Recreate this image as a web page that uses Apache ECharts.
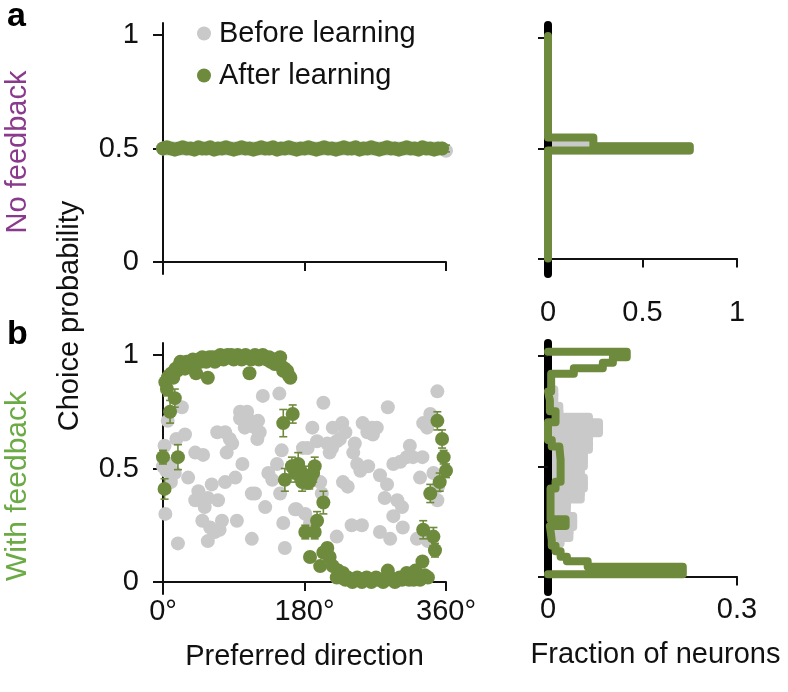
<!DOCTYPE html>
<html><head><meta charset="utf-8">
<script src="https://cdn.jsdelivr.net/npm/echarts@6/dist/echarts.min.js"></script>
<style>html,body{margin:0;padding:0;background:#fff}#c{width:788px;height:692px}</style>
</head><body><div id="c"></div>
<script>
// ---------------- DATA ----------------
const seriesNames = ['Before learning', 'After learning'];
const xTickLabels = ['0°', '180°', '360°'];
const yTickValues = [0, 0.5, 1];

// Panel a (no feedback): preferred directions and choice probabilities
const topDirs = [0,5,10,15,20,25,30,35,40,45,
  50,55,60,65,70,75,80,85,90,95,
  100,105,110,115,120,125,130,135,140,145,
  150,155,160,165,170,175,180,185,190,195,
  200,205,210,215,220,225,230,235,240,245,
  250,255,260,265,270,275,280,285,290,295,
  300,305,310,315,320,325,330,335,340,345,
  350,355,360];
const topBefore = [0.50,0.50,0.50,0.50,0.50,0.50,0.50,0.50,0.50,0.50,
  0.50,0.50,0.50,0.50,0.50,0.50,0.50,0.50,0.50,0.50,
  0.50,0.50,0.50,0.50,0.50,0.50,0.50,0.50,0.50,0.50,
  0.50,0.50,0.50,0.50,0.50,0.50,0.50,0.50,0.50,0.50,
  0.50,0.50,0.50,0.50,0.50,0.50,0.50,0.50,0.50,0.50,
  0.50,0.50,0.50,0.50,0.50,0.50,0.50,0.50,0.50,0.50,
  0.50,0.50,0.50,0.50,0.50,0.50,0.50,0.50,0.50,0.50,
  0.50,0.50,0.49];
const topAfter = [0.50,0.505,0.50,0.495,0.50,0.505,0.50,0.50,0.495,0.505,
  0.50,0.50,0.505,0.495,0.50,0.50,0.505,0.50,0.495,0.50,
  0.505,0.50,0.50,0.495,0.50,0.505,0.50,0.50,0.505,0.495,
  0.50,0.50,0.505,0.50,0.495,0.50,0.50,0.505,0.50,0.495,
  0.50,0.505,0.50,0.50,0.495,0.50,0.505,0.50,0.50,0.505,
  0.495,0.50,0.50,0.505,0.50,0.495,0.50,0.505,0.50,0.50,
  0.495,0.50,0.505,0.50,0.50,0.495,0.505,0.50,0.50,0.495,
  0.50,0.50,0.50];
const topAfterErr = [0.015,0.02,0.015,0.015,0.02,0.015,0.015,0.02,0.015,0.015,
  0.02,0.015,0.015,0.02,0.015,0.015,0.02,0.015,0.015,0.02,
  0.015,0.015,0.02,0.015,0.015,0.02,0.015,0.015,0.02,0.015,
  0.015,0.02,0.015,0.015,0.02,0.015,0.015,0.02,0.015,0.015,
  0.02,0.015,0.015,0.02,0.015,0.015,0.02,0.015,0.015,0.02,
  0.015,0.015,0.02,0.015,0.015,0.02,0.015,0.015,0.02,0.015,
  0.015,0.02,0.015,0.015,0.02,0.015,0.015,0.02,0.015,0.015,
  0.02,0.015,0.015];

// Panel b (with feedback): before learning [direction, CP]
const botBefore = [[127,0.82],[148,0.83],[24,0.77],[6,0.71],[98,0.75],[107,0.75],[98,0.72],[111,0.71],[104,0.68],[121,0.71],
  [123,0.66],[120,0.63],[117,0.68],[17,0.63],[28,0.65],[69,0.66],[79,0.66],[85,0.63],[81,0.57],[88,0.61],
  [41,0.57],[51,0.56],[101,0.52],[0,0.51],[9,0.52],[15,0.48],[32,0.46],[62,0.43],[79,0.44],[92,0.46],
  [134,0.48],[145,0.52],[45,0.40],[41,0.36],[70,0.36],[117,0.39],[149,0.39],[139,0.45],[151,0.58],[53,0.33],
  [130,0.33],[3,0.30],[50,0.27],[75,0.27],[94,0.27],[60,0.24],[66,0.22],[19,0.17],[57,0.18],[113,0.19],
  [155,0.15],[153,0.26],[170,0.32],[181,0.30],[178,0.59],[4,0.49],[57,0.37],[72,0.23],[113,0.39],[2,0.60],[10,0.44],
  [349,0.84],[204,0.79],[286,0.77],[331,0.70],[340,0.74],[336,0.68],[190,0.68],[228,0.70],[216,0.68],[232,0.66],
  [254,0.70],[266,0.68],[272,0.68],[267,0.65],[260,0.66],[184,0.59],[196,0.62],[209,0.61],[215,0.59],[221,0.62],
  [212,0.57],[225,0.63],[244,0.61],[242,0.57],[314,0.60],[293,0.52],[302,0.53],[310,0.55],[318,0.55],[330,0.55],
  [247,0.52],[261,0.51],[251,0.49],[276,0.47],[285,0.43],[282,0.37],[327,0.46],[344,0.48],[350,0.42],[349,0.36],
  [229,0.44],[235,0.42],[200,0.44],[202,0.39],[298,0.36],[304,0.33],[168,0.32],[293,0.29],[305,0.24],[240,0.25],
  [253,0.25],[276,0.22],[289,0.19],[221,0.20],[187,0.26],[323,0.19],[337,0.18]];

// Panel b: after learning [direction, CP, error]
const botAfter = [[0,0.55,0.03],[2,0.41,0.045],[19,0.55,0.055],[9,0.75,0.05],[15,0.81,0.04],[5,0.85,0.03],
  [3,0.88,0.01],[6,0.90,0.01],[8,0.91,0.01],[11,0.92,0.01],[13,0.90,0.01],[16,0.94,0.01],[18,0.93,0.01],[20,0.95,0.01],
  [22,0.97,0.01],[24,0.95,0.01],[26,0.96,0.01],[28,0.94,0.01],[30,0.97,0.01],[32,0.96,0.01],[34,0.95,0.01],[36,0.97,0.01],
  [38,0.98,0.01],[40,0.96,0.01],[42,0.92,0.015],[44,0.97,0.01],[46,0.98,0.01],[48,0.97,0.01],[50,0.99,0.01],[52,0.98,0.01],
  [55,0.97,0.01],[57,0.90,0.02],[59,0.99,0.01],[61,0.98,0.01],[63,0.99,0.01],[66,0.97,0.01],[68,0.99,0.01],[70,0.98,0.01],
  [73,1.0,0.01],[75,0.99,0.01],[77,0.98,0.01],[80,0.99,0.01],[82,1.0,0.01],[85,0.99,0.01],[87,1.0,0.01],[90,0.98,0.01],
  [92,0.99,0.01],[95,1.0,0.01],[97,0.99,0.01],[100,0.98,0.01],[102,0.99,0.01],[105,1.0,0.01],[107,0.99,0.01],[110,0.92,0.015],
  [112,0.98,0.01],[115,0.99,0.01],[117,1.0,0.01],[120,0.99,0.01],[122,0.98,0.01],[125,0.99,0.01],[127,1.0,0.01],[130,0.99,0.01],
  [132,0.98,0.01],[135,0.99,0.01],[137,0.97,0.01],[140,0.98,0.01],[142,0.96,0.01],[145,0.97,0.01],[147,0.98,0.01],[149,0.99,0.01],
  [151,0.95,0.01],[153,0.93,0.01],[155,0.94,0.01],[158,0.93,0.01],[160,0.91,0.01],[162,0.90,0.01],
  [153,0.70,0.06],[165,0.74,0.04],[155,0.45,0.05],[164,0.51,0.04],[168,0.48,0.04],[172,0.52,0.05],[175,0.49,0.04],[177,0.44,0.04],
  [180,0.47,0.04],[183,0.45,0.04],[186,0.44,0.03],[188,0.46,0.03],[191,0.48,0.04],[193,0.51,0.04],[196,0.27,0.04],[204,0.35,0.05],
  [181,0.22,0.03],[193,0.22,0.03],[187,0.11,0.02],[204,0.13,0.02],[209,0.15,0.02],[212,0.11,0.02],[200,0.07,0.02],[216,0.07,0.02],
  [223,0.05,0.01],[229,0.04,0.01],[221,0.02,0.01],
  [226,0.02,0.01],[232,0.01,0.01],[235,0.02,0.01],[238,0.01,0.01],[241,0.0,0.01],[244,0.01,0.01],[247,0.02,0.01],[250,0.01,0.01],
  [253,0.0,0.01],[256,0.01,0.01],[259,0.02,0.01],[262,0.01,0.01],[265,0.0,0.01],[268,0.01,0.01],[271,0.02,0.01],[274,0.01,0.01],
  [277,0.01,0.01],[280,0.0,0.01],[283,0.01,0.01],[286,0.05,0.01],[289,0.02,0.01],[292,0.01,0.01],[295,0.0,0.01],[298,0.01,0.01],
  [301,0.02,0.01],[304,0.01,0.01],[307,0.02,0.01],[310,0.04,0.01],[313,0.01,0.01],[316,0.02,0.01],[319,0.01,0.01],[321,0.05,0.01],
  [324,0.02,0.01],[327,0.01,0.01],[330,0.09,0.02],[333,0.03,0.01],[337,0.02,0.01],
  [331,0.23,0.04],[344,0.20,0.04],[346,0.14,0.03],[340,0.39,0.04],[349,0.71,0.04],[355,0.63,0.04],[357,0.55,0.03],[360,0.49,0.03],[352,0.44,0.04]];

// Histograms: bin edges (choice probability) and fraction of neurons
const histTopBeforeEdges = [0.49, 0.51, 0.53];
const histTopBeforeFrac  = [0.75, 0.21];
const histTopAfterEdges  = [0.0, 0.49, 0.51, 0.55, 1.01];
const histTopAfterFrac   = [0, 0.75, 0.24, 0];

const histBotBeforeEdges = [0.15,0.175,0.2,0.225,0.25,0.275,0.3,0.325,0.35,0.375,0.4,0.425,0.45,0.475,0.5,
  0.525,0.55,0.575,0.6,0.625,0.65,0.675,0.7,0.725,0.75,0.775,0.8,0.825,0.85];
const histBotBeforeFrac  = [0.02,0.034,0.034,0.04,0.04,0.028,0.03,0.03,0.052,0.052,0.057,0.057,0.052,0.052,
  0.057,0.057,0.057,0.065,0.065,0.065,0.081,0.081,0.065,0.018,0.018,0,0.01,0.01];
const histBotAfterEdges  = [0.01,0.045,0.07,0.09,0.115,0.14,0.165,0.23,0.26,0.40,0.43,0.53,0.59,0.62,0.70,0.75,
  0.80,0.84,0.92,0.945,0.97,0.995,1.02];
const histBotAfterFrac   = [0.214,0.063,0.03,0.02,0.012,0.006,0.003,0.028,0.004,0.012,0.02,0.018,0.006,0,0.012,
  0.003,0,0.005,0.041,0.087,0.103,0.125];

// ---------------- STYLE ----------------
const GREEN = '#6E8B3D', GRAY = '#C9C9C9', INK = '#111111';
const FONT = 'Liberation Sans';
const FS = 29;
const DOT = 14;

function binsOf(edges, frac) {
  const out = [];
  for (let i = 0; i < frac.length; i++) if (frac[i] > 0) out.push([edges[i], edges[i + 1], frac[i]]);
  return out;
}
function outlineOf(edges, frac) {
  const pts = [[0, edges[0]]];
  for (let i = 0; i < frac.length; i++) { pts.push([frac[i], edges[i]]); pts.push([frac[i], edges[i + 1]]); }
  pts.push([0, edges[edges.length - 1]]);
  return pts;
}
function errItem(params, api) {
  const x = api.value(0), y = api.value(1), e = api.value(2);
  const a = api.coord([x, y + e]), b = api.coord([x, y - e]);
  const w = 4, st = { stroke: GREEN, lineWidth: 1.6 };
  return { type: 'group', children: [
    { type: 'line', shape: { x1: a[0], y1: a[1], x2: b[0], y2: b[1] }, style: st },
    { type: 'line', shape: { x1: a[0] - w, y1: a[1], x2: a[0] + w, y2: a[1] }, style: st },
    { type: 'line', shape: { x1: b[0] - w, y1: b[1], x2: b[0] + w, y2: b[1] }, style: st }
  ]};
}
function barItem(params, api) {
  const lo = api.value(0), hi = api.value(1), f = api.value(2);
  const p0 = api.coord([0, hi]), p1 = api.coord([f, lo]);
  const c = 4;
  return { type: 'rect', shape: { x: p0[0], y: p0[1] - c, width: Math.max(0, p1[0] - p0[0]) + c,
    height: p1[1] - p0[1] + 2 * c, r: c }, style: { fill: GRAY } };
}

const axisLine = { show: true, lineStyle: { color: INK, width: 2 } };
const tick = (len) => ({ show: true, inside: false, length: len, lineStyle: { color: INK, width: 2 } });
const lbl = { color: INK, fontSize: FS, fontFamily: FONT };

function scatterX(grid, showLabels) {
  return { gridIndex: grid, type: 'value', min: 0, max: 360, interval: 180,
    axisLine, axisTick: tick(9), splitLine: { show: false },
    axisLabel: Object.assign({ show: showLabels, margin: 3, formatter: v => xTickLabels[Math.round(v / 180)] }, lbl),
    name: showLabels ? 'Preferred direction' : '', nameLocation: 'middle', nameGap: 48,
    nameTextStyle: { color: INK, fontSize: FS, fontFamily: FONT } };
}
function scatterY(grid) {
  return { gridIndex: grid, type: 'value', min: -0.053, max: 1.053,
    axisLine, splitLine: { show: false },
    axisTick: Object.assign(tick(10), { customValues: yTickValues }),
    axisLabel: Object.assign({ margin: 24, customValues: yTickValues, formatter: v => String(v) }, lbl) };
}
function histY(grid) {
  return { gridIndex: grid, type: 'value', min: -0.07, max: 1.06, z: 2,
    axisLine: { show: true, lineStyle: { color: '#000', width: 8 } }, splitLine: { show: false },
    axisTick: Object.assign(tick(10), { customValues: yTickValues }),
    axisLabel: { show: false } };
}

const option = {
  animation: false,
  backgroundColor: '#fff',
  textStyle: { fontFamily: FONT },
  legend: {
    orient: 'vertical', left: 192, top: 14, itemWidth: 14, itemHeight: 14, itemGap: 13,
    selectedMode: false,
    textStyle: { color: INK, fontSize: FS, fontFamily: FONT, padding: [0, 0, 0, 3] },
    data: [
      { name: seriesNames[0], icon: 'circle', itemStyle: { color: GRAY } },
      { name: seriesNames[1], icon: 'circle', itemStyle: { color: GREEN } }
    ]
  },
  grid: [
    { left: 163, top: 23, width: 283, height: 251 },
    { left: 163, top: 343, width: 283, height: 251 },
    { left: 548, top: 25, width: 189, height: 249 },
    { left: 548, top: 343, width: 189, height: 249 }
  ],
  xAxis: [
    scatterX(0, false),
    scatterX(1, true),
    { gridIndex: 2, type: 'value', min: 0, max: 1, interval: 0.5, axisLine, axisTick: tick(9), splitLine: { show: false },
      axisLabel: Object.assign({ margin: 24 }, lbl) },
    { gridIndex: 3, type: 'value', min: 0, max: 0.3, interval: 0.3, axisLine, axisTick: tick(9), splitLine: { show: false },
      axisLabel: Object.assign({ margin: 3, formatter: v => String(+v.toFixed(1)) }, lbl),
      name: 'Fraction of neurons', nameLocation: 'middle', nameGap: 48,
      nameTextStyle: { color: INK, fontSize: FS, fontFamily: FONT, padding: [0, 0, 0, 26] } }
  ],
  yAxis: [scatterY(0), scatterY(1), histY(2), histY(3)],
  graphic: [
    { type: 'text', left: 7, top: 0, style: { text: 'a', font: 'bold 34px "Liberation Sans"', fill: '#000' } },
    { type: 'text', left: 7, top: 318, style: { text: 'b', font: 'bold 34px "Liberation Sans"', fill: '#000' } },
    { type: 'text', x: 18, y: 152, rotation: Math.PI / 2,
      style: { text: 'No feedback', font: FS + 'px "Liberation Sans"', fill: '#8A3A8C', align: 'center', verticalAlign: 'middle' } },
    { type: 'text', x: 18, y: 486, rotation: Math.PI / 2,
      style: { text: 'With feedback', font: '30px "Liberation Sans"', fill: '#6BAA45', align: 'center', verticalAlign: 'middle' } },
    { type: 'text', x: 70, y: 316, rotation: Math.PI / 2,
      style: { text: 'Choice probability', font: FS + 'px "Liberation Sans"', fill: INK, align: 'center', verticalAlign: 'middle' } }
  ],
  series: [
    { type: 'scatter', name: seriesNames[0], xAxisIndex: 0, yAxisIndex: 0, symbolSize: DOT, z: 1,
      itemStyle: { color: GRAY, opacity: 1 }, data: topDirs.map((d, i) => [d, topBefore[i]]) },
    { type: 'custom', name: seriesNames[1], xAxisIndex: 0, yAxisIndex: 0, z: 2, renderItem: errItem,
      encode: { x: 0, y: 1 }, data: topDirs.map((d, i) => [d, topAfter[i], topAfterErr[i]]) },
    { type: 'scatter', name: seriesNames[1], xAxisIndex: 0, yAxisIndex: 0, symbolSize: DOT, z: 3,
      itemStyle: { color: GREEN, opacity: 1 }, data: topDirs.slice(0, -1).map((d, i) => [d, topAfter[i]]) },

    { type: 'scatter', name: seriesNames[0], xAxisIndex: 1, yAxisIndex: 1, symbolSize: DOT, z: 1,
      itemStyle: { color: GRAY, opacity: 1 }, data: botBefore },
    { type: 'custom', name: seriesNames[1], xAxisIndex: 1, yAxisIndex: 1, z: 2, renderItem: errItem,
      encode: { x: 0, y: 1 }, data: botAfter },
    { type: 'scatter', name: seriesNames[1], xAxisIndex: 1, yAxisIndex: 1, symbolSize: DOT, z: 3,
      itemStyle: { color: GREEN, opacity: 1 }, data: botAfter.map(p => [p[0], p[1]]) },

    { type: 'custom', name: seriesNames[0], xAxisIndex: 2, yAxisIndex: 2, z: 1, renderItem: barItem,
      encode: { x: 2, y: 0 }, data: binsOf(histTopBeforeEdges, histTopBeforeFrac) },
    { type: 'line', name: seriesNames[1], xAxisIndex: 2, yAxisIndex: 2, z: 3, showSymbol: false, symbol: 'none', clip: false,
      lineStyle: { color: GREEN, width: 8, cap: 'round', join: 'round' }, itemStyle: { color: GREEN },
      data: outlineOf(histTopAfterEdges, histTopAfterFrac) },

    { type: 'custom', name: seriesNames[0], xAxisIndex: 3, yAxisIndex: 3, z: 1, renderItem: barItem,
      encode: { x: 2, y: 0 }, data: binsOf(histBotBeforeEdges, histBotBeforeFrac) },
    { type: 'line', name: seriesNames[1], xAxisIndex: 3, yAxisIndex: 3, z: 3, showSymbol: false, symbol: 'none', clip: false,
      lineStyle: { color: GREEN, width: 8, cap: 'round', join: 'round' }, itemStyle: { color: GREEN },
      data: outlineOf(histBotAfterEdges, histBotAfterFrac) }
  ]
};

const chart = echarts.init(document.getElementById('c'), null, { renderer: 'canvas' });
chart.setOption(option);
</script></body></html>
